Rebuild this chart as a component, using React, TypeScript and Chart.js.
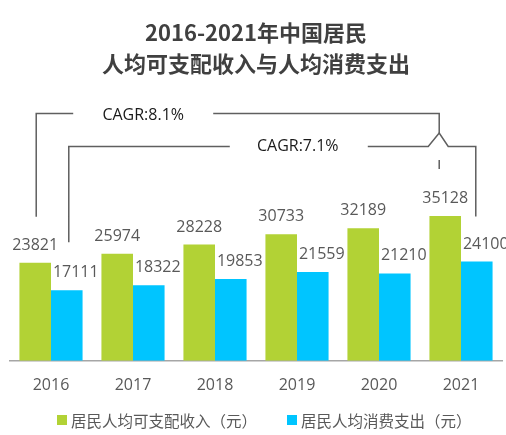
import { useEffect, useRef } from "react";
import { Chart, registerables } from "chart.js";

Chart.register(...registerables);

const years = ["2016", "2017", "2018", "2019", "2020", "2021"];
const income = [23821, 25974, 28228, 30733, 32189, 35128];
const spending = [17111, 18322, 19853, 21559, 21210, 24100];
const seriesNames = ["居民人均可支配收入（元）", "居民人均消费支出（元）"];
const titleLines = ["2016-2021年中国居民", "人均可支配收入与人均消费支出"];
const cagrLabels = ["CAGR:8.1%", "CAGR:7.1%"];

const GREEN = "#b2d235";
const BLUE = "#00c5ff";
const TEXT = "#595959";
const CJK = '"Noto Sans CJK SC", sans-serif';
const LATIN = '"Open Sans", sans-serif';

// value labels, CAGR brackets and the legend, hung off the bar elements
const overlay = {
  id: "overlay",
  afterDatasetsDraw(chart: any) {
    const ctx = chart.ctx;
    const g = chart.getDatasetMeta(0).data;
    const b = chart.getDatasetMeta(1).data;
    ctx.save();
    ctx.font = `16px ${LATIN}`;
    ctx.fillStyle = TEXT;
    ctx.textAlign = "center";
    ctx.textBaseline = "alphabetic";
    g.forEach((bar: any, i: number) => ctx.fillText(String(income[i]), bar.x, bar.y - 13));
    b.forEach((bar: any, i: number) => ctx.fillText(String(spending[i]), bar.x + 9, bar.y - 13));

    ctx.strokeStyle = "#5f5f5f";
    ctx.lineWidth = 1.5;

    // outer bracket (income)
    const x1 = g[0].x + 1;
    const x2 = g[5].x - 6;
    const y1 = 113.5;
    ctx.beginPath();
    ctx.moveTo(x1, g[0].y - 46);
    ctx.lineTo(x1, y1);
    ctx.lineTo(x1 + 37, y1);
    ctx.moveTo(x1 + 177, y1);
    ctx.lineTo(x2, y1);
    ctx.lineTo(x2, 133);
    ctx.moveTo(x2, 160);
    ctx.lineTo(x2, 169);
    ctx.stroke();

    // inner bracket (spending), with the little hop over the outer one
    const x3 = b[0].x + 2;
    const x4 = b[5].x - 1;
    const y2 = 146.5;
    ctx.beginPath();
    ctx.moveTo(x3, b[0].y - 48);
    ctx.lineTo(x3, y2);
    ctx.lineTo(x3 + 161, y2);
    ctx.moveTo(x3 + 299, y2);
    ctx.lineTo(x2 - 11, y2);
    ctx.lineTo(x2, 133);
    ctx.lineTo(x2 + 9, y2);
    ctx.lineTo(x4, y2);
    ctx.lineTo(x4, b[5].y - 45);
    ctx.stroke();

    ctx.fillStyle = "#1a1a1a";
    ctx.textBaseline = "middle";
    ctx.fillText(cagrLabels[0], x1 + 107, 115);
    ctx.fillText(cagrLabels[1], x3 + 229, 146);

    // legend
    ctx.font = `15.5px ${CJK}`;
    ctx.textAlign = "left";
    const ly = 420;
    [GREEN, BLUE].forEach((c, i) => {
      const lx = i === 0 ? 57 : 287;
      ctx.fillStyle = c;
      ctx.fillRect(lx, ly - 5, 10, 10);
      ctx.fillStyle = TEXT;
      ctx.fillText(seriesNames[i], lx + 14, ly + 1);
    });
    ctx.restore();
  },
};

export default function App() {
  const chartRef = useRef<HTMLCanvasElement>(null);

  useEffect(() => {
    if (!chartRef.current) return;
    const ctx = chartRef.current.getContext("2d");
    if (!ctx) return;

    const chart = new Chart(ctx, {
      type: "bar",
      data: {
        labels: years,
        datasets: [
          {
            label: seriesNames[0],
            data: income,
            backgroundColor: GREEN,
            categoryPercentage: 0.77,
            barPercentage: 1,
          },
          {
            label: seriesNames[1],
            data: spending,
            backgroundColor: BLUE,
            categoryPercentage: 0.77,
            barPercentage: 1,
          },
        ],
      },
      options: {
        responsive: true,
        maintainAspectRatio: false,
        animation: false,
        layout: { padding: { left: 10, right: 4, top: 0, bottom: 33 } },
        plugins: {
          title: {
            display: true,
            text: titleLines,
            color: "#404040",
            font: { size: 22, weight: "bold", family: CJK, lineHeight: 1.4 },
            padding: { top: 17, bottom: 35 },
          },
          legend: { display: false },
          tooltip: { enabled: false },
        },
        scales: {
          x: {
            grid: { display: false },
            border: { color: "#a6a6a6", width: 1.5 },
            ticks: { color: TEXT, font: { size: 16, family: LATIN }, padding: 7 },
          },
          y: { display: false, min: 0, max: 60000 },
        },
      },
      plugins: [overlay],
    });

    return () => chart.destroy();
  }, []);

  return (
    <div style={{ position: "absolute", left: 0, top: 0, width: 506, height: 435, background: "#fff" }}>
      <canvas ref={chartRef} />
    </div>
  );
}
